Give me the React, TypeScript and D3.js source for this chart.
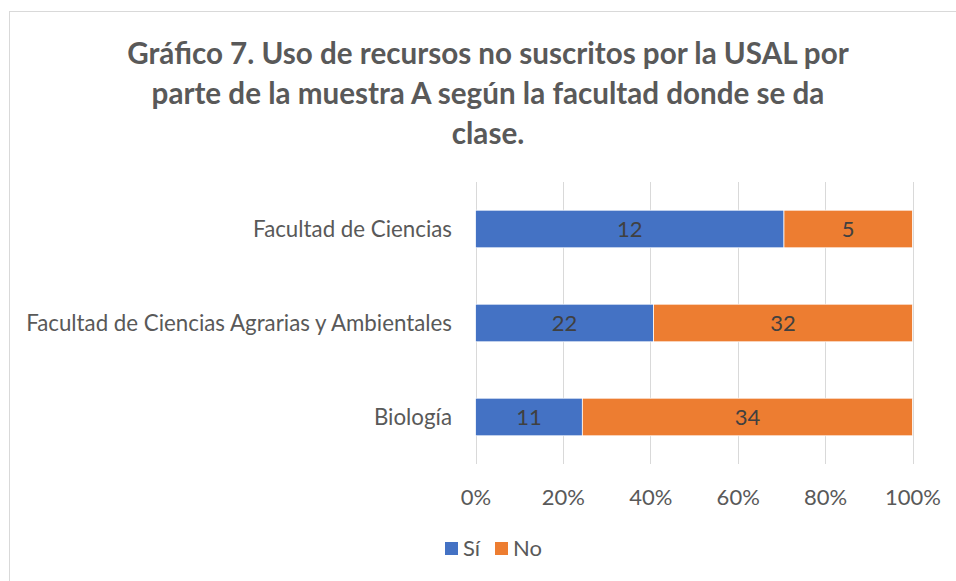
import { useRef, useEffect } from "react";
import * as d3 from "d3";

const categories = [
  "Facultad de Ciencias",
  "Facultad de Ciencias Agrarias y Ambientales",
  "Biología",
];
const siValues = [12, 22, 11];
const noValues = [5, 32, 34];
const seriesKeys = ["Sí", "No"];
const seriesColors = ["#4472C4", "#ED7D31"];
const tickValues = [0, 0.2, 0.4, 0.6, 0.8, 1];
const titleLines = [
  "Gráfico 7. Uso de recursos no suscritos por la USAL por",
  "parte de la muestra A según la facultad donde se da",
  "clase.",
];

const FONT = "Lato, 'Open Sans', sans-serif";

function App() {
  const width = 956,
    height = 581,
    marginTop = 182,
    marginBottom = 117,
    marginLeft = 475.5,
    marginRight = 43.5;

  const gx = useRef<SVGGElement>(null);

  const data = categories.map((c, i) => ({
    cat: c,
    "Sí": siValues[i],
    No: noValues[i],
  }));

  const stacked = d3
    .stack<any>()
    .keys(seriesKeys)
    .offset(d3.stackOffsetExpand)(data);

  const y = d3
    .scaleBand()
    .domain(categories)
    .range([marginTop, height - marginBottom])
    .paddingInner(0.6)
    .paddingOuter(0.3);

  const x = d3
    .scaleLinear()
    .domain([0, 1])
    .range([marginLeft, width - marginRight]);

  const color = d3.scaleOrdinal<string>().domain(seriesKeys).range(seriesColors);

  useEffect(() => {
    // vertical gridlines + percent labels, Excel style (no domain, no ticks)
    d3.select(gx.current)
      .call(
        d3
          .axisBottom(x)
          .tickValues(tickValues)
          .tickFormat(d3.format(".0%"))
          .tickSize(0)
          .tickPadding(0)
      )
      .call((g) => g.select(".domain").remove())
      .call((g) =>
        g
          .selectAll(".tick text")
          .attr("y", 0)
          .attr("dy", "0.35em")
          .attr("fill", "#595959")
          .attr("font-size", 22)
          .attr("font-family", FONT)
      );
  }, [x]);

  return (
    <svg
      width={width}
      height={height}
      style={{ position: "absolute", left: 0, top: 0, background: "#fff" }}
    >
      <rect
        x={9.5}
        y={11.5}
        width={1000}
        height={700}
        fill="#fff"
        stroke="#D9D9D9"
        strokeWidth={1}
      />
      <g
        fill="#595959"
        fontFamily={FONT}
        fontWeight="bold"
        fontSize={29.6}
        textAnchor="middle"
      >
        {titleLines.map((t, i) => (
          <text key={i} x={488} y={64 + i * 40}>
            {t}
          </text>
        ))}
      </g>
      <g stroke="#D9D9D9" strokeWidth={1}>
        {tickValues.map((t) => (
          <line
            key={t}
            x1={Math.round(x(t)) + 0.5}
            x2={Math.round(x(t)) + 0.5}
            y1={marginTop}
            y2={height - marginBottom}
          />
        ))}
      </g>
      <g>
        {stacked.map((layer) => (
          <g key={layer.key} fill={color(layer.key)}>
            {layer.map((d, i) => (
              <rect
                key={i}
                x={x(d[0])}
                y={y(d.data.cat)}
                width={x(d[1]) - x(d[0])}
                height={y.bandwidth()}
                stroke="#fff"
                strokeWidth={0.75}
              />
            ))}
          </g>
        ))}
      </g>
      <g
        fill="#404040"
        fontFamily={FONT}
        fontSize={22}
        textAnchor="middle"
      >
        {stacked.map((layer) =>
          layer.map((d, i) => (
            <text
              key={layer.key + i}
              x={(x(d[0]) + x(d[1])) / 2}
              y={y(d.data.cat)! + y.bandwidth() / 2}
              dy="0.35em"
            >
              {d.data[layer.key]}
            </text>
          ))
        )}
      </g>
      <g fill="#595959" fontFamily={FONT} fontSize={22.3} textAnchor="end">
        {categories.map((c) => (
          <text key={c} x={452} y={y(c)! + y.bandwidth() / 2} dy="0.35em">
            {c}
          </text>
        ))}
      </g>
      <g ref={gx} transform={`translate(0,497)`} />
      <g fontFamily={FONT} fontSize={22} fill="#595959">
        {seriesKeys.map((k, i) => (
          <g key={k} transform={`translate(${445 + i * 50},542)`}>
            <rect width={13} height={13} fill={color(k)} />
            <text x={18} y={6.5} dy="0.35em">
              {k}
            </text>
          </g>
        ))}
      </g>
    </svg>
  );
}

export default App;
